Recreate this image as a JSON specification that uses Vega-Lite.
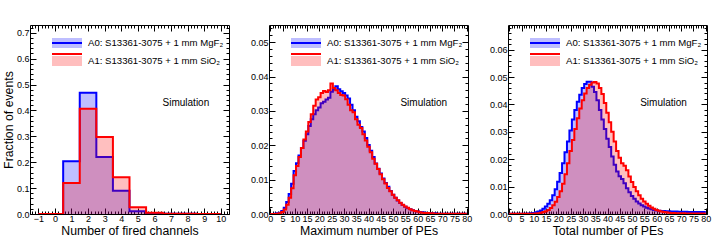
{
  "$schema": "https://vega.github.io/schema/vega-lite/v6.json",
  "background": "white",
  "padding": {"left": 1, "top": 24, "right": 5, "bottom": 3},
  "config": {
    "font": "Liberation Sans",
    "view": {"stroke": "black", "strokeWidth": 1},
    "axis": {"domain": false, "grid": false, "labelFont": "Liberation Sans", "labelFontSize": 9, "labelColor": "black", "titleFont": "Liberation Sans", "titleFontSize": 12.3, "titleFontWeight": "normal", "titleColor": "black", "tickColor": "black", "tickWidth": 1, "labelOverlap": false, "labelFlush": false},
    "legend": {"labelFont": "Liberation Sans", "labelFontSize": 9.6, "labelColor": "black"}
  },
  "datasets": {
    "fired": [
      {"x": -1, "A0": 0, "A1": 0}, {"x": 0, "A0": 0, "A1": 0}, {"x": 1, "A0": 0.204, "A1": 0.12},
      {"x": 2, "A0": 0.468, "A1": 0.407}, {"x": 3, "A0": 0.22, "A1": 0.297}, {"x": 4, "A0": 0.09, "A1": 0.142},
      {"x": 5, "A0": 0.011, "A1": 0.026}, {"x": 6, "A0": 0.002, "A1": 0.005}, {"x": 7, "A0": 0.001, "A1": 0.001},
      {"x": 8, "A0": 0.0005, "A1": 0.0005}, {"x": 9, "A0": 0.0003, "A1": 0.0003}, {"x": 10, "A0": 0.0002, "A1": 0.0002}
    ],
    "maxpe": [
      {"x": 0, "A0": 0, "A1": 0}, {"x": 1, "A0": 0, "A1": 0}, {"x": 2, "A0": 0.0001, "A1": 0}, {"x": 3, "A0": 0.0002, "A1": 0.0001},
      {"x": 4, "A0": 0.0004, "A1": 0.0002}, {"x": 5, "A0": 0.0009, "A1": 0.0006}, {"x": 6, "A0": 0.0018, "A1": 0.0013},
      {"x": 7, "A0": 0.0035, "A1": 0.0027}, {"x": 8, "A0": 0.0058, "A1": 0.0047}, {"x": 9, "A0": 0.0088, "A1": 0.0075},
      {"x": 10, "A0": 0.0125, "A1": 0.0113}, {"x": 11, "A0": 0.0148, "A1": 0.014}, {"x": 12, "A0": 0.017, "A1": 0.0166},
      {"x": 13, "A0": 0.0192, "A1": 0.0192}, {"x": 14, "A0": 0.0213, "A1": 0.0217}, {"x": 15, "A0": 0.0232, "A1": 0.024},
      {"x": 16, "A0": 0.0256, "A1": 0.0268}, {"x": 17, "A0": 0.0276, "A1": 0.029}, {"x": 18, "A0": 0.029, "A1": 0.0315},
      {"x": 19, "A0": 0.0302, "A1": 0.0333}, {"x": 20, "A0": 0.031, "A1": 0.034}, {"x": 21, "A0": 0.0322, "A1": 0.0352},
      {"x": 22, "A0": 0.0327, "A1": 0.0358}, {"x": 23, "A0": 0.0333, "A1": 0.0355}, {"x": 24, "A0": 0.0338, "A1": 0.036},
      {"x": 25, "A0": 0.0356, "A1": 0.038}, {"x": 26, "A0": 0.0362, "A1": 0.0367}, {"x": 27, "A0": 0.0372, "A1": 0.036},
      {"x": 28, "A0": 0.0363, "A1": 0.0352}, {"x": 29, "A0": 0.0357, "A1": 0.0346}, {"x": 30, "A0": 0.0352, "A1": 0.0345},
      {"x": 31, "A0": 0.0345, "A1": 0.0334}, {"x": 32, "A0": 0.0336, "A1": 0.0318}, {"x": 33, "A0": 0.0318, "A1": 0.0302},
      {"x": 34, "A0": 0.0302, "A1": 0.0296}, {"x": 35, "A0": 0.0283, "A1": 0.0276}, {"x": 36, "A0": 0.027, "A1": 0.026},
      {"x": 37, "A0": 0.0253, "A1": 0.025}, {"x": 38, "A0": 0.024, "A1": 0.0232}, {"x": 39, "A0": 0.0221, "A1": 0.0214},
      {"x": 40, "A0": 0.0201, "A1": 0.0196}, {"x": 41, "A0": 0.0184, "A1": 0.018}, {"x": 42, "A0": 0.0166, "A1": 0.0161},
      {"x": 43, "A0": 0.0147, "A1": 0.0146}, {"x": 44, "A0": 0.0132, "A1": 0.0131}, {"x": 45, "A0": 0.0118, "A1": 0.0116},
      {"x": 46, "A0": 0.0103, "A1": 0.0101}, {"x": 47, "A0": 0.009, "A1": 0.0089}, {"x": 48, "A0": 0.0079, "A1": 0.0076},
      {"x": 49, "A0": 0.0067, "A1": 0.0066}, {"x": 50, "A0": 0.0056, "A1": 0.0056}, {"x": 51, "A0": 0.0047, "A1": 0.0047},
      {"x": 52, "A0": 0.0039, "A1": 0.004}, {"x": 53, "A0": 0.0032, "A1": 0.0033}, {"x": 54, "A0": 0.0026, "A1": 0.0027},
      {"x": 55, "A0": 0.0021, "A1": 0.0022}, {"x": 56, "A0": 0.0017, "A1": 0.0018}, {"x": 57, "A0": 0.0014, "A1": 0.0014},
      {"x": 58, "A0": 0.0011, "A1": 0.0011}, {"x": 59, "A0": 0.0009, "A1": 0.0009}, {"x": 60, "A0": 0.0007, "A1": 0.0007},
      {"x": 61, "A0": 0.0006, "A1": 0.0005}, {"x": 62, "A0": 0.0005, "A1": 0.0004}, {"x": 63, "A0": 0.0004, "A1": 0.0003},
      {"x": 64, "A0": 0.0003, "A1": 0.0003}, {"x": 65, "A0": 0.0003, "A1": 0.0002}, {"x": 66, "A0": 0.0002, "A1": 0.0002},
      {"x": 67, "A0": 0.0002, "A1": 0.0001}, {"x": 68, "A0": 0.0001, "A1": 0.0001}, {"x": 69, "A0": 0.0001, "A1": 0.0001},
      {"x": 70, "A0": 0.0001, "A1": 0.0001}, {"x": 71, "A0": 0.0001, "A1": 0.0001}, {"x": 72, "A0": 0.0001, "A1": 0.0001},
      {"x": 73, "A0": 0.0001, "A1": 0.0001}, {"x": 74, "A0": 0.0001, "A1": 0.0001}, {"x": 75, "A0": 0.0001, "A1": 0.0001},
      {"x": 76, "A0": 0.00005, "A1": 0.00005}, {"x": 77, "A0": 0.00005, "A1": 0.00005}, {"x": 78, "A0": 0.00005, "A1": 0.00005},
      {"x": 79, "A0": 0.00005, "A1": 0.00005}, {"x": 80, "A0": 0.00005, "A1": 0.00005}
    ],
    "totpe": [
      {"x": 0, "A0": 0.0001, "A1": 0.0001}, {"x": 1, "A0": 0.0001, "A1": 0.0001}, {"x": 2, "A0": 0.0001, "A1": 0.0001},
      {"x": 3, "A0": 0.0001, "A1": 0.0001}, {"x": 4, "A0": 0.0001, "A1": 0.0001}, {"x": 5, "A0": 0.0001, "A1": 0.0001},
      {"x": 6, "A0": 0.0001, "A1": 0.0001}, {"x": 7, "A0": 0.0001, "A1": 0.0001}, {"x": 8, "A0": 0.0002, "A1": 0.0001},
      {"x": 9, "A0": 0.0003, "A1": 0.0001}, {"x": 10, "A0": 0.0004, "A1": 0.0001}, {"x": 11, "A0": 0.0006, "A1": 0.0002},
      {"x": 12, "A0": 0.0009, "A1": 0.0003}, {"x": 13, "A0": 0.0013, "A1": 0.0005}, {"x": 14, "A0": 0.0019, "A1": 0.0007},
      {"x": 15, "A0": 0.0027, "A1": 0.001}, {"x": 16, "A0": 0.0037, "A1": 0.0015}, {"x": 17, "A0": 0.005, "A1": 0.0022},
      {"x": 18, "A0": 0.0068, "A1": 0.0032}, {"x": 19, "A0": 0.009, "A1": 0.0045}, {"x": 20, "A0": 0.0118, "A1": 0.0062},
      {"x": 21, "A0": 0.015, "A1": 0.0083}, {"x": 22, "A0": 0.0185, "A1": 0.011}, {"x": 23, "A0": 0.0225, "A1": 0.0145},
      {"x": 24, "A0": 0.0265, "A1": 0.0185}, {"x": 25, "A0": 0.0305, "A1": 0.023}, {"x": 26, "A0": 0.0345, "A1": 0.027},
      {"x": 27, "A0": 0.038, "A1": 0.031}, {"x": 28, "A0": 0.041, "A1": 0.035}, {"x": 29, "A0": 0.0435, "A1": 0.0385},
      {"x": 30, "A0": 0.046, "A1": 0.0415}, {"x": 31, "A0": 0.0475, "A1": 0.044}, {"x": 32, "A0": 0.0483, "A1": 0.046},
      {"x": 33, "A0": 0.0483, "A1": 0.0472}, {"x": 34, "A0": 0.0465, "A1": 0.048}, {"x": 35, "A0": 0.0445, "A1": 0.0482},
      {"x": 36, "A0": 0.0415, "A1": 0.0476}, {"x": 37, "A0": 0.038, "A1": 0.046}, {"x": 38, "A0": 0.0345, "A1": 0.0438},
      {"x": 39, "A0": 0.031, "A1": 0.0405}, {"x": 40, "A0": 0.0275, "A1": 0.037}, {"x": 41, "A0": 0.0245, "A1": 0.0335},
      {"x": 42, "A0": 0.021, "A1": 0.03}, {"x": 43, "A0": 0.018, "A1": 0.0265}, {"x": 44, "A0": 0.0155, "A1": 0.023},
      {"x": 45, "A0": 0.0138, "A1": 0.0205}, {"x": 46, "A0": 0.0128, "A1": 0.0185}, {"x": 47, "A0": 0.0112, "A1": 0.0176},
      {"x": 48, "A0": 0.0094, "A1": 0.016}, {"x": 49, "A0": 0.0079, "A1": 0.0137}, {"x": 50, "A0": 0.0066, "A1": 0.0117},
      {"x": 51, "A0": 0.0056, "A1": 0.0099}, {"x": 52, "A0": 0.0046, "A1": 0.0083}, {"x": 53, "A0": 0.0038, "A1": 0.0068},
      {"x": 54, "A0": 0.0032, "A1": 0.0056}, {"x": 55, "A0": 0.0027, "A1": 0.0046}, {"x": 56, "A0": 0.0023, "A1": 0.0037},
      {"x": 57, "A0": 0.002, "A1": 0.003}, {"x": 58, "A0": 0.0017, "A1": 0.0024}, {"x": 59, "A0": 0.0015, "A1": 0.0019},
      {"x": 60, "A0": 0.0013, "A1": 0.0015}, {"x": 61, "A0": 0.0012, "A1": 0.0012}, {"x": 62, "A0": 0.0011, "A1": 0.0009},
      {"x": 63, "A0": 0.0011, "A1": 0.0007}, {"x": 64, "A0": 0.001, "A1": 0.0006}, {"x": 65, "A0": 0.001, "A1": 0.0005},
      {"x": 66, "A0": 0.0009, "A1": 0.0004}, {"x": 67, "A0": 0.0009, "A1": 0.0004}, {"x": 68, "A0": 0.0009, "A1": 0.0003},
      {"x": 69, "A0": 0.0008, "A1": 0.0003}, {"x": 70, "A0": 0.0008, "A1": 0.0003}, {"x": 71, "A0": 0.0008, "A1": 0.0003},
      {"x": 72, "A0": 0.0008, "A1": 0.0002}, {"x": 73, "A0": 0.0007, "A1": 0.0002}, {"x": 74, "A0": 0.0007, "A1": 0.0002},
      {"x": 75, "A0": 0.0007, "A1": 0.0002}, {"x": 76, "A0": 0.0007, "A1": 0.0002}, {"x": 77, "A0": 0.0007, "A1": 0.0002},
      {"x": 78, "A0": 0.0007, "A1": 0.0002}, {"x": 79, "A0": 0.0007, "A1": 0.0002}, {"x": 80, "A0": 0.0007, "A1": 0.0002}
    ]
  },
  "spacing": 40,
  "bounds": "flush",
  "resolve": {"scale": {"fill": "independent", "stroke": "independent"}, "legend": {"fill": "independent", "stroke": "independent"}},
  "hconcat": [
    {
      "width": 199, "height": 189,
      "data": {"name": "fired"},
      "transform": [{"fold": ["A0", "A1"], "as": ["s", "v"]}],
      "resolve": {"axis": {"x": "independent", "y": "independent"}},
      "layer": [
        {
          "transform": [{"filter": "datum.s === 'A0'"}],
          "mark": {"type": "area", "interpolate": "step", "fillOpacity": 0.25, "clip": true},
          "encoding": {
            "x": {"field": "x", "type": "quantitative", "scale": {"domain": [-1.5, 10.5], "nice": false, "zero": false},
                  "axis": {"orient": "bottom", "values": [-1, 0, 1, 2, 3, 4, 5, 6, 7, 8, 9, 10], "tickSize": -6, "labelPadding": 6, "title": "Number of fired channels", "titlePadding": 1}},
            "y": {"field": "v", "type": "quantitative", "stack": null, "scale": {"domain": [0, 0.73], "nice": false},
                  "axis": {"orient": "left", "values": [0, 0.1, 0.2, 0.3, 0.4, 0.5, 0.6, 0.7], "format": ".1f", "tickSize": -6, "labelPadding": 7, "title": "Fraction of events", "titlePadding": 1}},
            "fill": {"field": "s", "type": "nominal", "scale": {"range": ["#0000ff", "#ff0000"]},
                     "legend": {"orient": "none", "legendX": 31, "legendY": 12, "title": null, "symbolType": "M-3,-1H3V1H-3Z", "symbolSize": 100, "symbolOpacity": 0.25, "symbolStrokeWidth": 2, "symbolStrokeColor": "transparent", "labelOffset": 15, "rowPadding": 0,
                                "labelExpr": "datum.value == 'A0' ? 'A0: S13361-3075 + 1 mm MgF₂' : 'A1: S13361-3075 + 1 mm SiO₂'"}}
          }
        },
        {
          "transform": [{"filter": "datum.s === 'A0'"}],
          "mark": {"type": "line", "interpolate": "step", "strokeWidth": 2, "clip": true},
          "encoding": {
            "x": {"field": "x", "type": "quantitative", "axis": {"orient": "bottom", "tickCount": 60, "tickSize": -3, "labels": false, "title": null}},
            "y": {"field": "v", "type": "quantitative", "axis": {"orient": "left", "tickCount": 36, "tickSize": -3, "labels": false, "title": null}},
            "stroke": {"field": "s", "type": "nominal", "scale": {"domain": ["A0", "A1"], "range": ["#0000ff", "#ff0000"]},
                       "legend": {"orient": "none", "legendX": 31, "legendY": 12, "title": null, "symbolType": "M-3,0H3", "symbolSize": 100, "symbolStrokeWidth": 2, "labelOffset": 15, "rowPadding": 0, "labelExpr": "''"}}
          }
        },
        {
          "transform": [{"filter": "datum.s === 'A1'"}],
          "mark": {"type": "area", "interpolate": "step", "fillOpacity": 0.25, "clip": true},
          "encoding": {
            "x": {"field": "x", "type": "quantitative", "axis": {"orient": "top", "values": [-1, 0, 1, 2, 3, 4, 5, 6, 7, 8, 9, 10], "tickSize": -6, "labels": false, "title": null}},
            "y": {"field": "v", "type": "quantitative", "stack": null, "axis": {"orient": "right", "values": [0, 0.1, 0.2, 0.3, 0.4, 0.5, 0.6, 0.7], "tickSize": -6, "labels": false, "title": null}},
            "fill": {"field": "s", "type": "nominal"}
          }
        },
        {
          "transform": [{"filter": "datum.s === 'A1'"}],
          "mark": {"type": "line", "interpolate": "step", "strokeWidth": 2, "clip": true},
          "encoding": {
            "x": {"field": "x", "type": "quantitative", "axis": {"orient": "top", "tickCount": 60, "tickSize": -3, "labels": false, "title": null}},
            "y": {"field": "v", "type": "quantitative", "axis": {"orient": "right", "tickCount": 36, "tickSize": -3, "labels": false, "title": null}},
            "stroke": {"field": "s", "type": "nominal"}
          }
        },
        {
          "data": {"values": [{}]},
          "mark": {"type": "text", "fontSize": 10, "align": "center", "baseline": "middle", "font": "Liberation Sans"},
          "encoding": {
            "x": {"datum": 7.9, "type": "quantitative", "axis": null},
            "y": {"datum": 0.43, "type": "quantitative", "axis": null},
            "text": {"value": "Simulation"}
          }
        }
      ]
    },
    {
      "width": 199, "height": 189,
      "data": {"name": "maxpe"},
      "transform": [{"fold": ["A0", "A1"], "as": ["s", "v"]}],
      "resolve": {"axis": {"x": "independent", "y": "independent"}},
      "layer": [
        {
          "transform": [{"filter": "datum.s === 'A0'"}],
          "mark": {"type": "area", "interpolate": "step", "fillOpacity": 0.25, "clip": true},
          "encoding": {
            "x": {"field": "x", "type": "quantitative", "scale": {"domain": [-0.5, 80.5], "nice": false, "zero": false},
                  "axis": {"orient": "bottom", "values": [0, 5, 10, 15, 20, 25, 30, 35, 40, 45, 50, 55, 60, 65, 70, 75, 80], "tickSize": -6, "labelPadding": 6, "title": "Maximum number of PEs", "titlePadding": 1}},
            "y": {"field": "v", "type": "quantitative", "stack": null, "scale": {"domain": [0, 0.055], "nice": false},
                  "axis": {"orient": "left", "values": [0, 0.01, 0.02, 0.03, 0.04, 0.05], "format": ".2f", "tickSize": -6, "labelPadding": 7, "title": null}},
            "fill": {"field": "s", "type": "nominal", "scale": {"range": ["#0000ff", "#ff0000"]},
                     "legend": {"orient": "none", "legendX": 31, "legendY": 12, "title": null, "symbolType": "M-3,-1H3V1H-3Z", "symbolSize": 100, "symbolOpacity": 0.25, "symbolStrokeWidth": 2, "symbolStrokeColor": "transparent", "labelOffset": 15, "rowPadding": 0,
                                "labelExpr": "datum.value == 'A0' ? 'A0: S13361-3075 + 1 mm MgF₂' : 'A1: S13361-3075 + 1 mm SiO₂'"}}
          }
        },
        {
          "transform": [{"filter": "datum.s === 'A0'"}],
          "mark": {"type": "line", "interpolate": "step", "strokeWidth": 2, "clip": true},
          "encoding": {
            "x": {"field": "x", "type": "quantitative", "axis": {"orient": "bottom", "tickCount": 80, "tickSize": -3, "labels": false, "title": null}},
            "y": {"field": "v", "type": "quantitative", "axis": {"orient": "left", "tickCount": 27, "tickSize": -3, "labels": false, "title": null}},
            "stroke": {"field": "s", "type": "nominal", "scale": {"domain": ["A0", "A1"], "range": ["#0000ff", "#ff0000"]},
                       "legend": {"orient": "none", "legendX": 31, "legendY": 12, "title": null, "symbolType": "M-3,0H3", "symbolSize": 100, "symbolStrokeWidth": 2, "labelOffset": 15, "rowPadding": 0, "labelExpr": "''"}}
          }
        },
        {
          "transform": [{"filter": "datum.s === 'A1'"}],
          "mark": {"type": "area", "interpolate": "step", "fillOpacity": 0.25, "clip": true},
          "encoding": {
            "x": {"field": "x", "type": "quantitative", "axis": {"orient": "top", "values": [0, 5, 10, 15, 20, 25, 30, 35, 40, 45, 50, 55, 60, 65, 70, 75, 80], "tickSize": -6, "labels": false, "title": null}},
            "y": {"field": "v", "type": "quantitative", "stack": null, "axis": {"orient": "right", "values": [0, 0.01, 0.02, 0.03, 0.04, 0.05], "tickSize": -6, "labels": false, "title": null}},
            "fill": {"field": "s", "type": "nominal"}
          }
        },
        {
          "transform": [{"filter": "datum.s === 'A1'"}],
          "mark": {"type": "line", "interpolate": "step", "strokeWidth": 2, "clip": true},
          "encoding": {
            "x": {"field": "x", "type": "quantitative", "axis": {"orient": "top", "tickCount": 80, "tickSize": -3, "labels": false, "title": null}},
            "y": {"field": "v", "type": "quantitative", "axis": {"orient": "right", "tickCount": 27, "tickSize": -3, "labels": false, "title": null}},
            "stroke": {"field": "s", "type": "nominal"}
          }
        },
        {
          "data": {"values": [{}]},
          "mark": {"type": "text", "fontSize": 10, "align": "center", "baseline": "middle", "font": "Liberation Sans"},
          "encoding": {
            "x": {"datum": 62.5, "type": "quantitative", "axis": null},
            "y": {"datum": 0.0324, "type": "quantitative", "axis": null},
            "text": {"value": "Simulation"}
          }
        }
      ]
    },
    {
      "width": 199, "height": 189,
      "data": {"name": "totpe"},
      "transform": [{"fold": ["A0", "A1"], "as": ["s", "v"]}],
      "resolve": {"axis": {"x": "independent", "y": "independent"}},
      "layer": [
        {
          "transform": [{"filter": "datum.s === 'A0'"}],
          "mark": {"type": "area", "interpolate": "step", "fillOpacity": 0.25, "clip": true},
          "encoding": {
            "x": {"field": "x", "type": "quantitative", "scale": {"domain": [-0.5, 80.5], "nice": false, "zero": false},
                  "axis": {"orient": "bottom", "values": [0, 5, 10, 15, 20, 25, 30, 35, 40, 45, 50, 55, 60, 65, 70, 75, 80], "tickSize": -6, "labelPadding": 6, "title": "Total number of PEs", "titlePadding": 1}},
            "y": {"field": "v", "type": "quantitative", "stack": null, "scale": {"domain": [0, 0.069], "nice": false},
                  "axis": {"orient": "left", "values": [0, 0.01, 0.02, 0.03, 0.04, 0.05, 0.06], "format": ".2f", "tickSize": -6, "labelPadding": 7, "title": null}},
            "fill": {"field": "s", "type": "nominal", "scale": {"range": ["#0000ff", "#ff0000"]},
                     "legend": {"orient": "none", "legendX": 31, "legendY": 12, "title": null, "symbolType": "M-3,-1H3V1H-3Z", "symbolSize": 100, "symbolOpacity": 0.25, "symbolStrokeWidth": 2, "symbolStrokeColor": "transparent", "labelOffset": 15, "rowPadding": 0,
                                "labelExpr": "datum.value == 'A0' ? 'A0: S13361-3075 + 1 mm MgF₂' : 'A1: S13361-3075 + 1 mm SiO₂'"}}
          }
        },
        {
          "transform": [{"filter": "datum.s === 'A0'"}],
          "mark": {"type": "line", "interpolate": "step", "strokeWidth": 2, "clip": true},
          "encoding": {
            "x": {"field": "x", "type": "quantitative", "axis": {"orient": "bottom", "tickCount": 80, "tickSize": -3, "labels": false, "title": null}},
            "y": {"field": "v", "type": "quantitative", "axis": {"orient": "left", "tickCount": 35, "tickSize": -3, "labels": false, "title": null}},
            "stroke": {"field": "s", "type": "nominal", "scale": {"domain": ["A0", "A1"], "range": ["#0000ff", "#ff0000"]},
                       "legend": {"orient": "none", "legendX": 31, "legendY": 12, "title": null, "symbolType": "M-3,0H3", "symbolSize": 100, "symbolStrokeWidth": 2, "labelOffset": 15, "rowPadding": 0, "labelExpr": "''"}}
          }
        },
        {
          "transform": [{"filter": "datum.s === 'A1'"}],
          "mark": {"type": "area", "interpolate": "step", "fillOpacity": 0.25, "clip": true},
          "encoding": {
            "x": {"field": "x", "type": "quantitative", "axis": {"orient": "top", "values": [0, 5, 10, 15, 20, 25, 30, 35, 40, 45, 50, 55, 60, 65, 70, 75, 80], "tickSize": -6, "labels": false, "title": null}},
            "y": {"field": "v", "type": "quantitative", "stack": null, "axis": {"orient": "right", "values": [0, 0.01, 0.02, 0.03, 0.04, 0.05, 0.06], "tickSize": -6, "labels": false, "title": null}},
            "fill": {"field": "s", "type": "nominal"}
          }
        },
        {
          "transform": [{"filter": "datum.s === 'A1'"}],
          "mark": {"type": "line", "interpolate": "step", "strokeWidth": 2, "clip": true},
          "encoding": {
            "x": {"field": "x", "type": "quantitative", "axis": {"orient": "top", "tickCount": 80, "tickSize": -3, "labels": false, "title": null}},
            "y": {"field": "v", "type": "quantitative", "axis": {"orient": "right", "tickCount": 35, "tickSize": -3, "labels": false, "title": null}},
            "stroke": {"field": "s", "type": "nominal"}
          }
        },
        {
          "data": {"values": [{}]},
          "mark": {"type": "text", "fontSize": 10, "align": "center", "baseline": "middle", "font": "Liberation Sans"},
          "encoding": {
            "x": {"datum": 62.8, "type": "quantitative", "axis": null},
            "y": {"datum": 0.0406, "type": "quantitative", "axis": null},
            "text": {"value": "Simulation"}
          }
        }
      ]
    }
  ]
}
